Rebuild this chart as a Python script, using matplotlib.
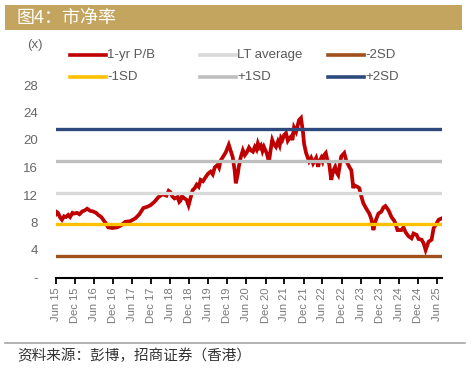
import matplotlib
matplotlib.use("Agg")
import matplotlib.pyplot as plt
import matplotlib.dates as mdates
from matplotlib.patches import Rectangle
from matplotlib.lines import Line2D
import pandas as pd

plt.rcParams['font.family'] = ['Liberation Sans', 'Noto Sans CJK SC', 'DejaVu Sans']

# 1-yr forward P/B
pb_dates = [
    "2015-06-30", "2015-07-10", "2015-07-19", "2015-08-10", "2015-08-26", "2015-09-15",
    "2015-10-04", "2015-10-25", "2015-11-12", "2015-12-05", "2015-12-20",
    "2016-01-18", "2016-02-10", "2016-03-07", "2016-04-05", "2016-04-24", "2016-05-23",
    "2016-06-21", "2016-07-19",
    "2016-08-08", "2016-09-06", "2016-09-25", "2016-10-24", "2016-11-12", "2016-12-21",
    "2017-02-07", "2017-03-17", "2017-04-25", "2017-06-12", "2017-07-30", "2017-09-07",
    "2017-10-15", "2017-11-23", "2017-12-22", "2018-01-29", "2018-03-09", "2018-04-17",
    "2018-05-25", "2018-06-15", "2018-07-03", "2018-07-20", "2018-08-10", "2018-09-08",
    "2018-09-25", "2018-10-07", "2018-10-20", "2018-11-05",
    "2018-12-04", "2018-12-23", "2019-01-11", "2019-01-31", "2019-02-20", "2019-03-11",
    "2019-03-30", "2019-04-18", "2019-05-10",
    "2019-06-05", "2019-06-28", "2019-07-23", "2019-08-12", "2019-08-31", "2019-09-29",
    "2019-10-12", "2019-10-27", "2019-11-16",
    "2019-12-15", "2020-01-13", "2020-02-01", "2020-02-20", "2020-03-10", "2020-03-20",
    "2020-04-08", "2020-04-18", "2020-05-07", "2020-05-27", "2020-06-15", "2020-07-04",
    "2020-07-25", "2020-08-12",
    "2020-09-01", "2020-09-19", "2020-10-05", "2020-10-18", "2020-11-01", "2020-11-16",
    "2020-12-01", "2020-12-15", "2021-01-13", "2021-02-01",
    "2021-02-20", "2021-03-05", "2021-03-21", "2021-04-10", "2021-04-29", "2021-05-15",
    "2021-05-28", "2021-06-10", "2021-06-26", "2021-07-15",
    "2021-08-01", "2021-08-13", "2021-09-01", "2021-09-15", "2021-09-30", "2021-10-20",
    "2021-11-05", "2021-11-17", "2021-12-06",
    "2021-12-26", "2022-01-04", "2022-01-24", "2022-02-22", "2022-03-13", "2022-04-01",
    "2022-04-15", "2022-04-30", "2022-05-20", "2022-05-29", "2022-06-18", "2022-07-01",
    "2022-07-16", "2022-08-01", "2022-08-14",
    "2022-09-03", "2022-09-22", "2022-10-11", "2022-10-30", "2022-11-12", "2022-11-28",
    "2022-12-27",
    "2023-01-25", "2023-02-13", "2023-03-14", "2023-04-03", "2023-04-22", "2023-05-01",
    "2023-05-30", "2023-06-18", "2023-07-08", "2023-07-27", "2023-08-25", "2023-09-23",
    "2023-10-12", "2023-11-01", "2023-11-20", "2023-12-19", "2024-01-17", "2024-02-05",
    "2024-02-24",
    "2024-03-24", "2024-04-22", "2024-05-21", "2024-06-19", "2024-07-27", "2024-08-15",
    "2024-09-04",
    "2024-10-03", "2024-11-01", "2024-11-20", "2024-12-19", "2025-01-07", "2025-02-05",
    "2025-02-24", "2025-03-16", "2025-04-13", "2025-05-12", "2025-06-01", "2025-06-30",
    "2025-07-19", "2025-08-17",
]
pb_values = [
    9.2, 9.5, 9.4, 8.7, 8.4, 8.9,
    8.8, 9.1, 8.8, 9.4, 9.3,
    9.4, 9.2, 9.6, 9.8, 10.0, 9.7,
    9.6, 9.4,
    9.1, 8.8, 8.4, 7.8, 7.3, 7.2,
    7.3, 7.6, 8.1, 8.2, 8.6, 9.2,
    10.1, 10.3, 10.5, 11.0, 11.7, 12.1,
    11.9, 12.6, 12.4, 11.8, 11.5, 11.7,
    11.0, 11.2, 11.9, 11.6,
    11.3, 10.5, 11.6, 12.7, 13.0, 13.5,
    13.2, 14.2, 14.0,
    14.6, 15.1, 15.4, 15.0, 16.0, 16.4,
    16.0, 17.0, 17.5,
    18.2, 19.3, 18.4, 17.5, 15.5, 13.7,
    15.0, 16.1, 17.5, 18.5, 17.8, 18.2,
    18.9, 18.5,
    18.3, 19.0, 18.6, 19.5, 18.9, 19.2,
    18.4, 19.0, 18.0, 16.8,
    18.8, 20.0, 19.4, 19.0, 19.8, 19.2,
    20.3, 20.0, 20.7, 21.0,
    19.9, 20.2, 20.5, 20.0, 21.8, 21.2,
    22.2, 22.9, 23.2,
    21.0, 19.5, 18.1, 16.9, 17.4, 16.6,
    17.0, 17.4, 16.1, 16.8, 17.4, 16.9,
    17.8, 18.1, 17.2,
    16.5, 14.2, 15.5, 16.1, 15.3, 14.9,
    17.6,
    18.1, 17.0, 16.1, 15.6, 13.0, 13.4,
    13.2, 13.0, 11.8, 10.8, 10.0, 9.3,
    8.5, 6.9, 8.2, 9.3, 9.6, 10.2,
    10.4,
    9.8, 8.8, 8.2, 6.9, 6.9, 7.3,
    6.6,
    6.0, 5.7, 6.4, 6.2, 5.6, 5.5,
    5.0, 4.0, 5.2, 5.5, 7.2, 7.9,
    8.4, 8.6,
]

# long-term average and standard deviation bands
band_names = ["LT average", "-2SD", "-1SD", "+1SD", "+2SD"]
band_values = [12.35, 3.2, 7.8, 17.0, 21.6]
band_colors = ["#D9D9D9", "#A0501A", "#FFC000", "#BFBFBF", "#2E4A7D"]

y_ticks = [0, 4, 8, 12, 16, 20, 24, 28]
y_tick_labels = ["-", "4", "8", "12", "16", "20", "24", "28"]

title = "图4：市净率"
source = "资料来源：彭博，招商证券（香港）"

W, H = 474, 370
fig = plt.figure(figsize=(W / 100, H / 100), dpi=100)


def fx(px):
    return px / W


def fy(py):
    return 1 - py / H


# title banner
fig.add_artist(Rectangle((fx(5), fy(30)), fx(457), 25 / H, transform=fig.transFigure,
                         facecolor="#C3A55F", edgecolor="none"))
fig.text(fx(17), fy(18), title, color="white", fontsize=13, va="center", ha="left",
         family=["Noto Sans CJK SC", "DejaVu Sans"])

# main axes
ax = fig.add_axes([fx(56), fy(277.5), fx(442 - 56), 220 / H])
dates = pd.to_datetime(pb_dates)
ax.plot(dates, pb_values, color="#C00000", lw=2.7, zorder=2, solid_joinstyle="miter")
for v, c in zip(band_values, band_colors):
    ax.axhline(v, color=c, lw=2.4, zorder=3)

ax.set_xlim(pd.Timestamp("2015-06-30"), pd.Timestamp("2025-08-20"))
ax.set_ylim(0, 32)
ax.set_yticks(y_ticks)
ax.set_yticklabels(y_tick_labels)

x_ticks = pd.date_range("2015-06-30", "2025-06-30", freq="6ME")
ax.set_xticks(x_ticks)
ax.xaxis.set_major_formatter(mdates.DateFormatter("%b %y"))
plt.setp(ax.get_xticklabels(), rotation=90, ha="center", va="top")

for s in ["left", "right", "top"]:
    ax.spines[s].set_visible(False)
ax.spines["bottom"].set_linewidth(1.5)
ax.spines["bottom"].set_color("black")
ax.tick_params(axis="y", length=0, pad=13, labelsize=9.5, labelcolor="#666666")
ax.tick_params(axis="x", length=4, width=1.3, color="black", pad=3,
               labelsize=8, labelcolor="#777777")

# "(x)" unit label
fig.text(fx(27), fy(45), "(x)", color="#666666", fontsize=9.5, va="center", ha="left")

# legend drawn by hand in figure pixels
legend_names = ["1-yr P/B"] + band_names
legend_colors = ["#C00000"] + band_colors
legend_pos = [(70, 55), (200, 55), (328, 55), (70, 77), (200, 77), (328, 77)]
for i, (lx, ly) in enumerate(legend_pos):
    fig.add_artist(Line2D([fx(lx), fx(lx + 36)], [fy(ly), fy(ly)], transform=fig.transFigure,
                          color=legend_colors[i], lw=2.6))
    fig.text(fx(lx + 37), fy(ly), legend_names[i], color="#595959", fontsize=9.5,
             va="center", ha="left")

# source footer
fig.add_artist(Line2D([fx(5), fx(465)], [fy(343), fy(343)], transform=fig.transFigure,
                      color="#A6A6A6", lw=1.2))
fig.text(fx(17), fy(356), source, color="#333333", fontsize=10.5, va="center", ha="left",
         family=["Noto Sans CJK SC", "DejaVu Sans"])

fig.savefig("out.png", dpi=100)
